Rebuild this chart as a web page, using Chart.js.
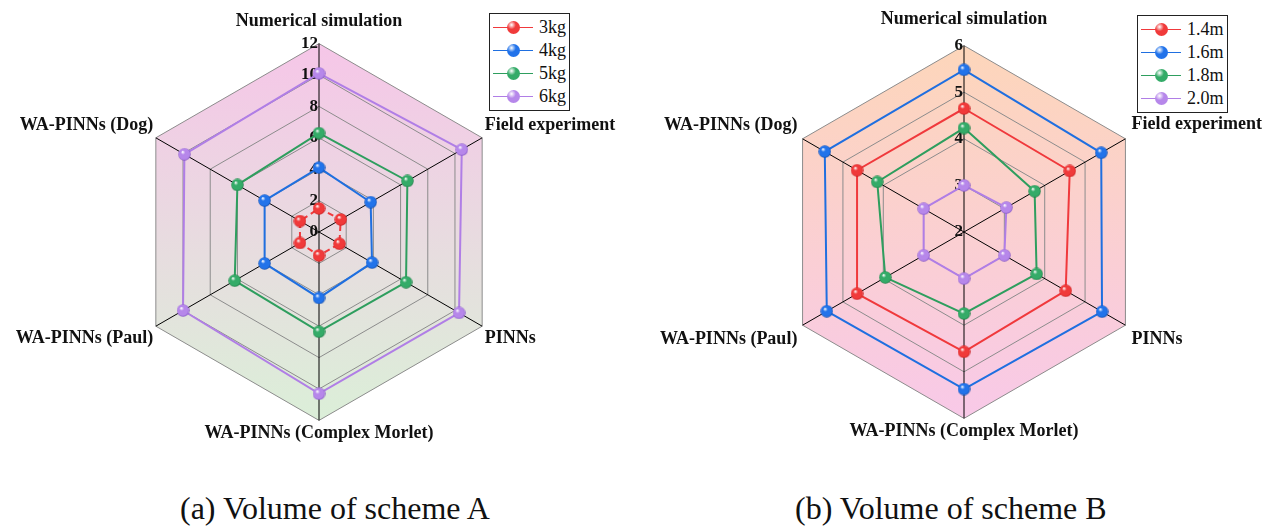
<!DOCTYPE html>
<html lang="en">
<head>
  <meta charset="UTF-8">
  <title>Volume radar charts</title>
  <script src="https://cdn.jsdelivr.net/npm/chart.js"></script>
  <style>
    body { margin: 0; width: 1265px; height: 527px; background: #fff; position: relative; overflow: hidden; font-family: "Liberation Serif", "Times New Roman", serif; }
    .box { position: absolute; }
    .legend { position: absolute; border: 1.5px solid #222; background: #fff; padding: 2px 3px 2px 3px; z-index: 2; }
    .legend div { display: flex; align-items: center; height: 23px; font-size: 18px; color: #111; }
    .legend .mk { position: relative; width: 40px; height: 14px; margin-right: 6px; }
    .legend .mk i { position: absolute; left: 0; right: 0; top: 6px; height: 1.5px; }
    .legend .mk b { position: absolute; left: 14px; top: 0; width: 13px; height: 13px; border-radius: 50%; }
    .caption { position: absolute; top: 492px; font-size: 32px; line-height: 1; color: #111; white-space: nowrap; }
  </style>
</head>
<body>
  <div class="box" style="left:-2px; top:7px; width:634px; height:442px;"><canvas id="radarA"></canvas></div>
  <div class="box" style="left:656px; top:3px; width:610px; height:446px;"><canvas id="radarB"></canvas></div>

  <div class="legend" id="legendA" style="left:489px; top:13px;"></div>
  <div class="legend" id="legendB" style="left:1137px; top:15px;"></div>

  <div class="caption" style="left:180px;">(a) Volume of scheme A</div>
  <div class="caption" style="left:795px;">(b) Volume of scheme B</div>

  <script>
    const axes = ['Numerical simulation', 'Field experiment', 'PINNs',
      'WA-PINNs (Complex Morlet)', 'WA-PINNs (Paul)', 'WA-PINNs (Dog)'];

    // scheme A
    const namesA = ['3kg', '4kg', '5kg', '6kg'];
    const kg3 = [1.5, 1.6, 1.5, 1.5, 1.4, 1.4];
    const kg4 = [4.1, 3.8, 3.9, 4.2, 4.0, 4.0];
    const kg5 = [6.3, 6.5, 6.4, 6.35, 6.2, 6.0];
    const kg6 = [10.1, 10.5, 10.3, 10.3, 10.0, 9.9];
    const ticksA = [0, 2, 4, 6, 8, 10, 12];

    // scheme B
    const namesB = ['1.4m', '1.6m', '1.8m', '2.0m'];
    const m14 = [4.65, 4.62, 4.52, 4.57, 4.65, 4.65];
    const m16 = [5.48, 5.4, 5.42, 5.37, 5.4, 5.45];
    const m18 = [4.23, 3.75, 3.8, 3.75, 3.95, 4.15];
    const m20 = [3.0, 3.05, 3.0, 3.0, 3.0, 3.0];
    const ticksB = [2, 3, 4, 5, 6];

    const colors = [
      { line: '#f0393c', ball: '#f03a3a', dark: '#c01c1e' },
      { line: '#1f6fe0', ball: '#2273ea', dark: '#12489e' },
      { line: '#2e9e5e', ball: '#34ab68', dark: '#1b7440' },
      { line: '#b07ee6', ball: '#b687ea', dark: '#7d4fbf' }
    ];

    function sphere(c) {
      const cv = document.createElement('canvas');
      cv.width = cv.height = 13;
      const g = cv.getContext('2d');
      const grad = g.createRadialGradient(4.6, 4, 0.3, 6.5, 6.5, 6.5);
      grad.addColorStop(0, '#ffffff');
      grad.addColorStop(0.3, c.ball);
      grad.addColorStop(0.8, c.ball);
      grad.addColorStop(1, c.dark);
      g.fillStyle = grad;
      g.beginPath();
      g.arc(6.5, 6.5, 6.2, 0, Math.PI * 2);
      g.fill();
      return cv;
    }

    // gradient fill of the outer hexagon, drawn under the grid
    const hexFill = {
      id: 'hexFill',
      beforeDraw(chart, args, opts) {
        const s = chart.scales.r;
        const ctx = chart.ctx;
        const grad = ctx.createLinearGradient(0, s.yCenter - s.drawingArea, 0, s.yCenter + s.drawingArea);
        grad.addColorStop(0, opts.top);
        grad.addColorStop(1, opts.bottom);
        ctx.save();
        ctx.beginPath();
        chart.data.labels.forEach((l, i) => {
          const p = s.getPointPositionForValue(i, s.max);
          if (i === 0) ctx.moveTo(p.x, p.y); else ctx.lineTo(p.x, p.y);
        });
        ctx.closePath();
        ctx.fillStyle = grad;
        ctx.fill();
        ctx.restore();
      }
    };

    // tick numbers sit just left of the vertical axis
    const tickText = {
      id: 'tickText',
      beforeDatasetsDraw(chart, args, opts) {
        const s = chart.scales.r;
        const ctx = chart.ctx;
        ctx.save();
        ctx.font = 'bold 17px "Liberation Serif"';
        ctx.fillStyle = '#111';
        ctx.textAlign = 'right';
        ctx.textBaseline = 'middle';
        opts.values.forEach(v => {
          const p = s.getPointPositionForValue(0, v);
          ctx.fillText(String(v), p.x - 1, p.y);
        });
        ctx.restore();
      }
    };

    function makeSets(names, series, dashFirst) {
      return names.map((n, i) => ({
        label: n,
        data: series[i],
        borderColor: colors[i].line,
        backgroundColor: 'transparent',
        borderWidth: 2,
        borderDash: (dashFirst && i === 0) ? [6, 4] : [],
        fill: false,
        pointStyle: sphere(colors[i]),
        pointRadius: 6,
        pointHoverRadius: 6
      }));
    }

    function radar(id, sets, ticks, pads, fillTop, fillBottom) {
      new Chart(document.getElementById(id), {
        type: 'radar',
        data: { labels: axes, datasets: sets },
        plugins: [hexFill, tickText],
        options: {
          responsive: true,
          maintainAspectRatio: false,
          animation: false,
          layout: { padding: 0 },
          plugins: {
            legend: { display: false },
            tooltip: { enabled: false },
            hexFill: { top: fillTop, bottom: fillBottom },
            tickText: { values: ticks }
          },
          scales: {
            r: {
              min: ticks[0],
              max: ticks[ticks.length - 1],
              ticks: { display: false, stepSize: ticks[1] - ticks[0] },
              grid: { color: '#8c8c8c', lineWidth: 1 },
              angleLines: { color: '#000', lineWidth: 1 },
              pointLabels: {
                color: '#111',
                font: { family: '"Liberation Serif"', size: 18, weight: 'bold' },
                padding: ctx => pads[ctx.index]
              }
            }
          }
        }
      });
    }

    radar('radarA', makeSets(namesA, [kg3, kg4, kg5, kg6], true), ticksA,
      [11, 3, 3, 2, 3, 3], '#f6c6e8', '#dbefd8');
    radar('radarB', makeSets(namesB, [m14, m16, m18, m20], false), ticksB,
      [15, 7, 7, 2, 6, 6], '#fdd6ba', '#f8c9e8');

    function legend(id, names) {
      const el = document.getElementById(id);
      names.forEach((n, i) => {
        const c = colors[i];
        const row = document.createElement('div');
        row.innerHTML = '<span class="mk"><i style="background:' + c.line + '"></i>' +
          '<b style="background:radial-gradient(circle at 35% 30%, #fff 0%, ' + c.ball + ' 35%, ' + c.ball + ' 75%, ' + c.dark + ' 100%)"></b></span>' + n;
        el.appendChild(row);
      });
    }
    legend('legendA', namesA);
    legend('legendB', namesB);
  </script>
</body>
</html>
